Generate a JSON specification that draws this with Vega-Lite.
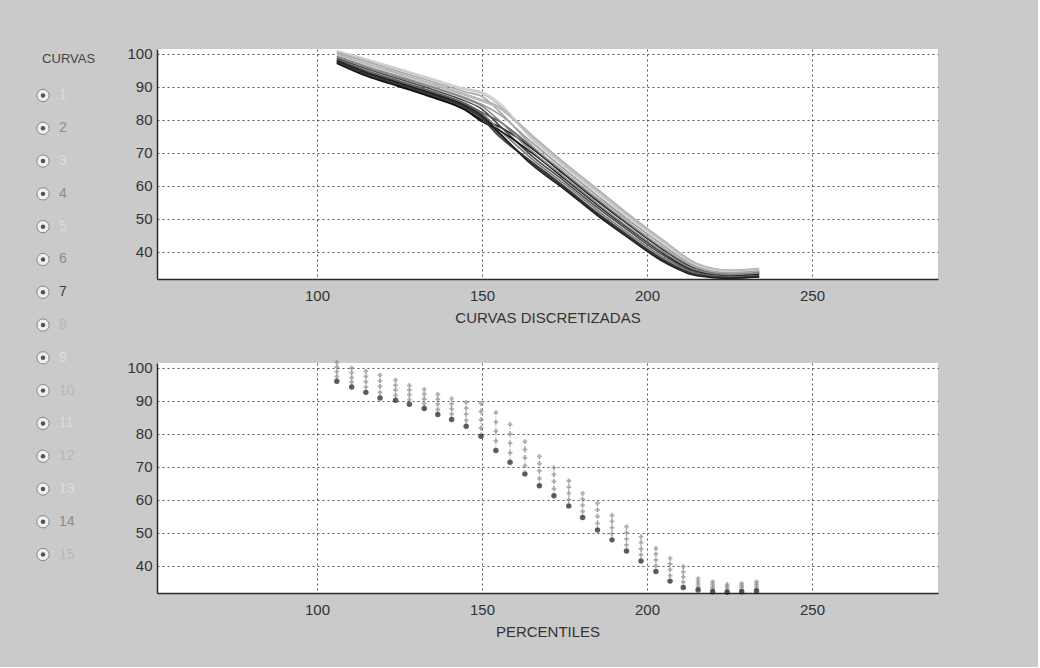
{
  "$schema": "https://vega.github.io/schema/vega-lite/v6.json",
  "background": "#cacaca",
  "padding": {"left": 11, "top": 46, "right": 100, "bottom": 28},
  "config": {
    "font": "Liberation Sans",
    "view": {"fill": "#ffffff", "stroke": null},
    "axis": {
      "grid": true,
      "gridColor": "#3a3a3a",
      "gridDash": [2, 3],
      "gridWidth": 1,
      "gridOpacity": 0.85,
      "domainColor": "#2a2a2a",
      "domainWidth": 1.5,
      "ticks": false,
      "tickSize": 0,
      "labelFlush": false,
      "labelOverlap": false,
      "labelFont": "Liberation Sans",
      "labelFontSize": 15,
      "labelColor": "#333333",
      "titleFont": "Liberation Sans",
      "titleFontSize": 15,
      "titleFontWeight": "normal",
      "titleColor": "#333333"
    },
    "axisX": {"labelPadding": 9, "titlePadding": 7},
    "axisY": {"labelPadding": 5}
  },
  "datasets": {
    "botones": [
      {"curva": 1, "etiqueta": "1", "estado": "tenue"},
      {"curva": 2, "etiqueta": "2", "estado": "media"},
      {"curva": 3, "etiqueta": "3", "estado": "tenue"},
      {"curva": 4, "etiqueta": "4", "estado": "media"},
      {"curva": 5, "etiqueta": "5", "estado": "tenue"},
      {"curva": 6, "etiqueta": "6", "estado": "media"},
      {"curva": 7, "etiqueta": "7", "estado": "oscura"},
      {"curva": 8, "etiqueta": "8", "estado": "clara"},
      {"curva": 9, "etiqueta": "9", "estado": "tenue"},
      {"curva": 10, "etiqueta": "10", "estado": "clara"},
      {"curva": 11, "etiqueta": "11", "estado": "tenue"},
      {"curva": 12, "etiqueta": "12", "estado": "clara"},
      {"curva": 13, "etiqueta": "13", "estado": "tenue"},
      {"curva": 14, "etiqueta": "14", "estado": "media"},
      {"curva": 15, "etiqueta": "15", "estado": "clara"}
    ],
    "curvas": [
      {"x": 106, "c1": 97.4, "c2": 98.2, "c3": 100.8, "c4": 97.8, "c5": 99.4, "c6": 98.8, "c7": 97.2, "c8": 100.0, "c9": 98.4, "c10": 101.0, "c11": 97.6, "c12": 99.2, "c13": 100.4, "c14": 98.0, "c15": 99.8},
      {"x": 115, "c1": 93.6, "c2": 94.7, "c3": 98.2, "c4": 94.1, "c5": 96.3, "c6": 95.5, "c7": 93.3, "c8": 97.1, "c9": 94.9, "c10": 98.5, "c11": 93.8, "c12": 96.0, "c13": 97.7, "c14": 94.4, "c15": 96.9},
      {"x": 125, "c1": 90.4, "c2": 91.5, "c3": 95.2, "c4": 90.9, "c5": 93.2, "c6": 92.4, "c7": 90.1, "c8": 94.1, "c9": 91.8, "c10": 95.5, "c11": 90.7, "c12": 92.9, "c13": 94.6, "c14": 91.2, "c15": 93.8},
      {"x": 135, "c1": 87.1, "c2": 88.3, "c3": 92.2, "c4": 87.7, "c5": 90.1, "c6": 89.2, "c7": 86.8, "c8": 91.0, "c9": 88.6, "c10": 92.5, "c11": 87.4, "c12": 89.8, "c13": 91.6, "c14": 88.0, "c15": 90.7},
      {"x": 145, "c1": 83.2, "c2": 84.6, "c3": 89.2, "c4": 83.9, "c5": 86.7, "c6": 85.7, "c7": 82.9, "c8": 87.8, "c9": 85.0, "c10": 89.5, "c11": 83.6, "c12": 86.4, "c13": 88.5, "c14": 84.3, "c15": 87.4},
      {"x": 150, "c1": 80.0, "c2": 81.9, "c3": 88.0, "c4": 80.9, "c5": 84.7, "c6": 83.3, "c7": 79.5, "c8": 86.1, "c9": 82.3, "c10": 88.5, "c11": 80.4, "c12": 84.2, "c13": 87.1, "c14": 81.4, "c15": 85.7},
      {"x": 155, "c1": 78.1, "c2": 77.3, "c3": 84.7, "c4": 75.9, "c5": 81.9, "c6": 78.6, "c7": 77.0, "c8": 84.1, "c9": 79.7, "c10": 85.5, "c11": 75.2, "c12": 80.0, "c13": 82.8, "c14": 76.4, "c15": 83.6},
      {"x": 165, "c1": 71.5, "c2": 68.3, "c3": 74.6, "c4": 67.0, "c5": 73.3, "c6": 69.2, "c7": 70.1, "c8": 75.5, "c9": 71.9, "c10": 74.2, "c11": 67.4, "c12": 70.6, "c13": 72.4, "c14": 66.5, "c15": 75.1},
      {"x": 175, "c1": 63.4, "c2": 60.6, "c3": 66.2, "c4": 59.4, "c5": 65.0, "c6": 61.4, "c7": 62.2, "c8": 67.0, "c9": 63.8, "c10": 65.8, "c11": 59.8, "c12": 62.6, "c13": 64.2, "c14": 59.0, "c15": 66.6},
      {"x": 185, "c1": 55.4, "c2": 52.6, "c3": 58.2, "c4": 51.4, "c5": 57.0, "c6": 53.4, "c7": 54.2, "c8": 59.0, "c9": 55.8, "c10": 57.8, "c11": 51.8, "c12": 54.6, "c13": 56.2, "c14": 51.0, "c15": 58.6},
      {"x": 195, "c1": 47.8, "c2": 45.2, "c3": 50.3, "c4": 44.2, "c5": 49.2, "c6": 46.0, "c7": 46.7, "c8": 51.0, "c9": 48.1, "c10": 49.9, "c11": 44.5, "c12": 47.0, "c13": 48.5, "c14": 43.8, "c15": 50.6},
      {"x": 205, "c1": 40.6, "c2": 38.3, "c3": 42.9, "c4": 37.3, "c5": 41.9, "c6": 39.0, "c7": 39.6, "c8": 43.5, "c9": 40.9, "c10": 42.5, "c11": 37.7, "c12": 39.9, "c13": 41.2, "c14": 37.0, "c15": 43.2},
      {"x": 215, "c1": 34.9, "c2": 33.6, "c3": 36.2, "c4": 33.0, "c5": 35.7, "c6": 33.9, "c7": 34.3, "c8": 36.6, "c9": 35.1, "c10": 36.0, "c11": 33.2, "c12": 34.5, "c13": 35.3, "c14": 32.8, "c15": 36.4},
      {"x": 225, "c1": 33.4, "c2": 32.5, "c3": 34.2, "c4": 32.1, "c5": 33.9, "c6": 32.8, "c7": 33.0, "c8": 34.5, "c9": 33.5, "c10": 34.1, "c11": 32.2, "c12": 33.1, "c13": 33.6, "c14": 32.0, "c15": 34.4},
      {"x": 234, "c1": 33.8, "c2": 32.9, "c3": 34.7, "c4": 32.5, "c5": 34.3, "c6": 33.2, "c7": 33.4, "c8": 35.0, "c9": 34.0, "c10": 34.6, "c11": 32.7, "c12": 33.6, "c13": 34.1, "c14": 32.4, "c15": 34.9}
    ],
    "percentiles": [
      {"x": 106.0, "p0": 96.0, "p25": 97.4, "p50": 98.9, "p75": 100.3, "p100": 101.7},
      {"x": 110.5, "p0": 94.2, "p25": 95.7, "p50": 97.1, "p75": 98.6, "p100": 100.0},
      {"x": 114.8, "p0": 92.6, "p25": 94.2, "p50": 95.8, "p75": 97.4, "p100": 99.0},
      {"x": 119.1, "p0": 90.9, "p25": 92.6, "p50": 94.4, "p75": 96.1, "p100": 97.8},
      {"x": 123.8, "p0": 90.2, "p25": 91.7, "p50": 93.3, "p75": 94.8, "p100": 96.3},
      {"x": 128.0, "p0": 89.0, "p25": 90.4, "p50": 91.9, "p75": 93.3, "p100": 94.7},
      {"x": 132.5, "p0": 87.7, "p25": 89.2, "p50": 90.6, "p75": 92.1, "p100": 93.5},
      {"x": 136.6, "p0": 85.9, "p25": 87.4, "p50": 89.0, "p75": 90.5, "p100": 92.0},
      {"x": 140.8, "p0": 84.4, "p25": 86.0, "p50": 87.6, "p75": 89.1, "p100": 90.7},
      {"x": 145.2, "p0": 82.3, "p25": 84.1, "p50": 86.0, "p75": 87.8, "p100": 89.6},
      {"x": 149.7, "p0": 79.3, "p25": 81.8, "p50": 84.3, "p75": 86.8, "p100": 89.3},
      {"x": 154.2, "p0": 75.0, "p25": 77.9, "p50": 80.8, "p75": 83.6, "p100": 86.5},
      {"x": 158.5, "p0": 71.4, "p25": 74.3, "p50": 77.2, "p75": 80.0, "p100": 82.9},
      {"x": 163.0, "p0": 67.9, "p25": 70.4, "p50": 72.8, "p75": 75.3, "p100": 77.7},
      {"x": 167.4, "p0": 64.3, "p25": 66.5, "p50": 68.8, "p75": 71.0, "p100": 73.2},
      {"x": 171.8, "p0": 61.3, "p25": 63.4, "p50": 65.6, "p75": 67.7, "p100": 69.8},
      {"x": 176.3, "p0": 58.2, "p25": 60.1, "p50": 62.0, "p75": 63.9, "p100": 65.8},
      {"x": 180.5, "p0": 54.7, "p25": 56.5, "p50": 58.4, "p75": 60.2, "p100": 62.0},
      {"x": 185.0, "p0": 50.9, "p25": 52.9, "p50": 55.0, "p75": 57.0, "p100": 59.0},
      {"x": 189.4, "p0": 47.9, "p25": 49.8, "p50": 51.6, "p75": 53.5, "p100": 55.3},
      {"x": 193.8, "p0": 44.5, "p25": 46.4, "p50": 48.2, "p75": 50.1, "p100": 51.9},
      {"x": 198.2, "p0": 41.5, "p25": 43.4, "p50": 45.2, "p75": 47.1, "p100": 48.9},
      {"x": 202.7, "p0": 38.3, "p25": 40.1, "p50": 41.8, "p75": 43.6, "p100": 45.3},
      {"x": 207.0, "p0": 35.4, "p25": 37.1, "p50": 38.9, "p75": 40.6, "p100": 42.3},
      {"x": 211.0, "p0": 33.5, "p25": 35.1, "p50": 36.7, "p75": 38.2, "p100": 39.8},
      {"x": 215.5, "p0": 32.7, "p25": 33.6, "p50": 34.5, "p75": 35.3, "p100": 36.2},
      {"x": 219.9, "p0": 32.2, "p25": 33.0, "p50": 33.7, "p75": 34.5, "p100": 35.2},
      {"x": 224.3, "p0": 32.0, "p25": 32.6, "p50": 33.2, "p75": 33.8, "p100": 34.4},
      {"x": 228.7, "p0": 32.2, "p25": 32.8, "p50": 33.5, "p75": 34.1, "p100": 34.7},
      {"x": 233.2, "p0": 32.4, "p25": 33.1, "p50": 33.8, "p75": 34.5, "p100": 35.2}
    ]
  },
  "spacing": 30,
  "hconcat": [
    {
      "width": 80,
      "height": 560,
      "view": {"fill": null, "stroke": null},
      "data": {"name": "botones"},
      "layer": [
        {
          "mark": {"type": "point", "shape": "circle", "filled": true, "size": 150, "color": "#ffffff", "stroke": "#6a6a6a", "strokeWidth": 1},
          "encoding": {
            "x": {"datum": 0, "type": "quantitative", "scale": {"domain": [-2, 3], "nice": false, "zero": false}, "axis": null},
            "y": {"field": "curva", "type": "quantitative", "scale": {"domain": [-0.418, 16.66], "reverse": true, "nice": false, "zero": false}, "axis": null}
          }
        },
        {
          "mark": {"type": "point", "shape": "circle", "filled": true, "size": 20, "color": "#111111"},
          "encoding": {
            "x": {"datum": 0, "type": "quantitative"},
            "y": {"field": "curva", "type": "quantitative"}
          }
        },
        {
          "mark": {"type": "text", "align": "left", "baseline": "middle", "fontSize": 14},
          "encoding": {
            "x": {"datum": 1, "type": "quantitative"},
            "y": {"field": "curva", "type": "quantitative"},
            "text": {"field": "etiqueta"},
            "color": {
              "condition": [
                {"test": "datum.estado == 'oscura'", "value": "#3a3a3a"},
                {"test": "datum.estado == 'media'", "value": "#8c8c8c"},
                {"test": "datum.estado == 'clara'", "value": "#b8b8b8"}
              ],
              "value": "#dcdcdc"
            }
          }
        },
        {
          "data": {"values": [{"texto": "CURVAS"}]},
          "mark": {"type": "text", "align": "center", "baseline": "middle", "fontSize": 13, "color": "#444444"},
          "encoding": {
            "x": {"datum": 1.6, "type": "quantitative"},
            "y": {"datum": -0.1, "type": "quantitative"},
            "text": {"field": "texto"}
          }
        }
      ]
    },
    {
      "spacing": 34,
      "vconcat": [
        {
          "width": 781,
          "height": 230,
          "data": {"name": "curvas"},
          "transform": [{"fold": ["c1", "c2", "c3", "c4", "c5", "c6", "c7", "c8", "c9", "c10", "c11", "c12", "c13", "c14", "c15"], "as": ["curva", "valor"]}],
          "mark": {"type": "line", "strokeWidth": 1.6, "interpolate": "monotone"},
          "encoding": {
            "x": {"field": "x", "type": "quantitative", "scale": {"domain": [51.5, 288.2], "nice": false, "zero": false}, "axis": {"values": [100, 150, 200, 250], "title": "CURVAS DISCRETIZADAS"}},
            "y": {"field": "valor", "type": "quantitative", "scale": {"domain": [31.8, 101.5], "nice": false, "zero": false}, "axis": {"values": [40, 50, 60, 70, 80, 90, 100], "title": null}},
            "color": {
              "field": "curva",
              "type": "nominal",
              "scale": {
                "domain": ["c1", "c2", "c3", "c4", "c5", "c6", "c7", "c8", "c9", "c10", "c11", "c12", "c13", "c14", "c15"],
                "range": ["#1a1a1a", "#7a7a7a", "#c4c4c4", "#2e2e2e", "#9a9a9a", "#4a4a4a", "#111111", "#b0b0b0", "#5c5c5c", "#d0d0d0", "#3a3a3a", "#858585", "#a8a8a8", "#222222", "#bcbcbc"]
              },
              "legend": null
            }
          }
        },
        {
          "width": 781,
          "height": 230,
          "data": {"name": "percentiles"},
          "encoding": {
            "x": {"field": "x", "type": "quantitative", "scale": {"domain": [51.5, 288.2], "nice": false, "zero": false}, "axis": {"values": [100, 150, 200, 250], "title": "PERCENTILES"}}
          },
          "layer": [
            {
              "mark": {"type": "rule", "color": "#8a8a8a", "strokeWidth": 1, "strokeDash": [1, 2]},
              "encoding": {
                "y": {"field": "p0", "type": "quantitative", "scale": {"domain": [31.8, 101.5], "nice": false, "zero": false}, "axis": {"values": [40, 50, 60, 70, 80, 90, 100], "title": null}},
                "y2": {"field": "p100"}
              }
            },
            {
              "transform": [{"fold": ["p25", "p50", "p75", "p100"], "as": ["percentil", "valor"]}],
              "mark": {"type": "point", "shape": "cross", "filled": true, "size": 22, "color": "#8f8f8f"},
              "encoding": {
                "y": {"field": "valor", "type": "quantitative", "axis": {"values": [40, 50, 60, 70, 80, 90, 100], "title": null}}
              }
            },
            {
              "mark": {"type": "point", "shape": "circle", "filled": true, "size": 30, "color": "#1a1a1a"},
              "encoding": {
                "y": {"field": "p0", "type": "quantitative", "axis": {"values": [40, 50, 60, 70, 80, 90, 100], "title": null}}
              }
            }
          ]
        }
      ]
    }
  ]
}
